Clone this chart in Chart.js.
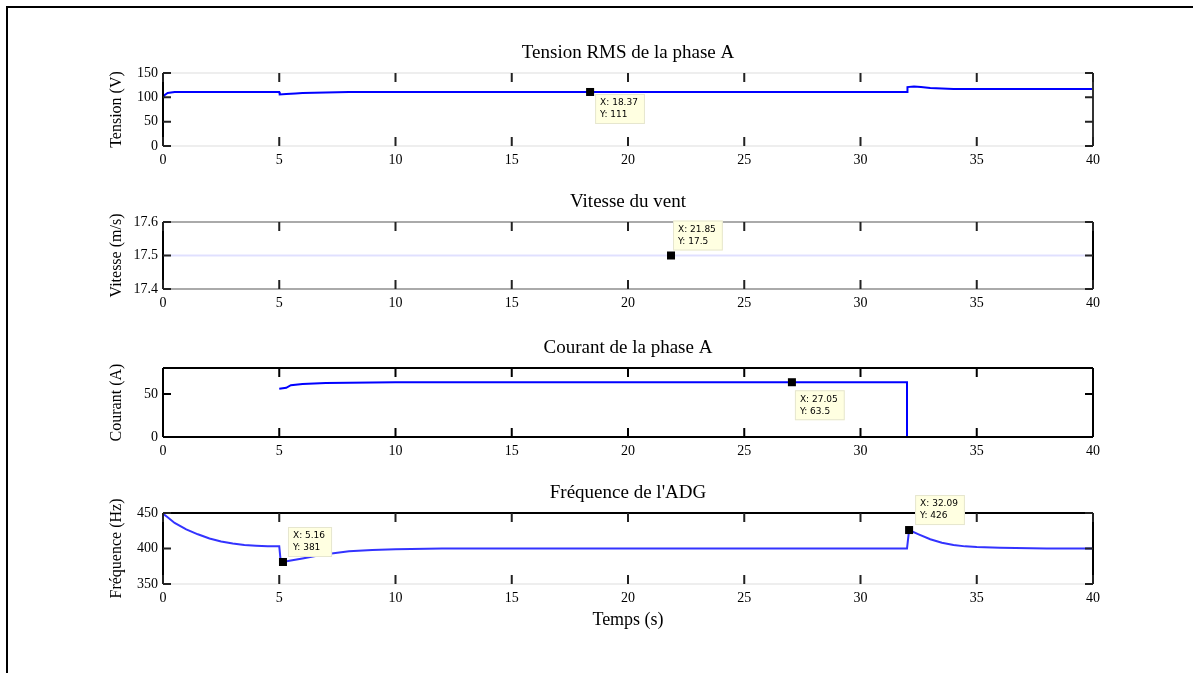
<!DOCTYPE html>
<html><head><meta charset="utf-8">
<script src="https://cdn.jsdelivr.net/npm/chart.js@4.4.0/dist/chart.umd.min.js"></script>
<style>
html,body{margin:0;padding:0;background:#fff;width:1197px;height:673px;overflow:hidden}
canvas.c{position:absolute;left:0;top:0}
#frame{position:absolute;left:6px;top:6px;width:1185px;height:680px;border-top:2px solid #000;border-left:2px solid #000}
</style></head><body>
<div id="frame"></div>
<canvas id="c1" class="c" width="1197" height="673"></canvas>
<canvas id="c2" class="c" width="1197" height="673"></canvas>
<canvas id="c3" class="c" width="1197" height="673"></canvas>
<canvas id="c4" class="c" width="1197" height="673"></canvas>
<script>
// ---- data ----
const timeTicks = [0, 5, 10, 15, 20, 25, 30, 35, 40];

const tensionTime   = [0, 0.05, 0.2, 0.5, 1, 2, 3, 4, 5, 5.02, 5.3, 5.7, 6, 7, 8, 9, 10, 15, 20, 25, 30, 32, 32.02, 32.3, 32.6, 33, 33.5, 34, 35, 36, 38, 40];
const tensionValues = [98, 104, 109, 111, 111, 111, 111, 111, 111, 106, 107, 108, 109, 110, 111, 111, 111, 111, 111, 111, 111, 111, 121, 122, 121, 119, 118, 117, 117, 117, 117, 117];
const tensionTicks  = [0, 50, 100, 150];
const tensionTip    = [18.37, 111];

const ventTime   = [0, 40];
const ventValues = [17.5, 17.5];
const ventTicks  = [17.4, 17.5, 17.6];
const ventTip    = [21.85, 17.5];

const courantTime   = [5, 5.3, 5.5, 6, 7, 8, 10, 15, 20, 25, 30, 32, 32, 40];
const courantValues = [56, 57, 60, 61.5, 62.5, 63, 63.5, 63.5, 63.5, 63.5, 63.5, 63.5, 0, 0];
const courantTicks  = [0, 50];
const courantTip    = [27.05, 63.5];

const freqTime   = [0, 0.2, 0.5, 1, 1.5, 2, 2.5, 3, 3.5, 4, 4.5, 5, 5.05, 5.16, 5.5, 6, 6.5, 7, 7.5, 8, 9, 10, 12, 15, 20, 25, 30, 32, 32.09, 32.5, 33, 33.5, 34, 34.5, 35, 36, 38, 40];
const freqValues = [449, 444, 436, 427, 420, 414, 410, 407, 405, 404, 403, 403, 386, 381, 383, 386, 389, 392, 394, 396, 398, 399, 400, 400, 400, 400, 400, 400, 426, 420, 413, 408, 405, 403, 402, 401, 400, 400];
const freqTicks  = [350, 400, 450];
const freqTip1   = [5.16, 381];
const freqTip2   = [32.09, 426];

// ---- drawing ----
const W = 1197, H = 673;
const SERIF = "'Liberation Serif', 'DejaVu Serif', serif";

function pts(xs, ys) { return xs.map((x, i) => ({x: x, y: ys[i]})); }

function fmt(v) { return String(Math.round(v * 10000) / 10000); }

const decor = {
  id: 'decor',
  afterDraw(chart, args, o) {
    const ctx = chart.ctx, a = chart.chartArea;
    const xs = chart.scales.x, ys = chart.scales.y;
    ctx.save();
    const edge = (c, x1, y1, x2, y2) => { if (!c) return; ctx.strokeStyle = c; ctx.lineWidth = 2; ctx.beginPath(); ctx.moveTo(x1, y1); ctx.lineTo(x2, y2); ctx.stroke(); };
    edge(o.edges.top, a.left, a.top, a.right, a.top);
    edge(o.edges.bottom, a.left, a.bottom, a.right, a.bottom);
    edge(o.edges.left, a.left, a.top, a.left, a.bottom);
    edge(o.edges.right, a.right, a.top, a.right, a.bottom);
    ctx.strokeStyle = o.tickColor; ctx.lineWidth = 2;
    ctx.beginPath();
    timeTicks.forEach(v => {
      const p = xs.getPixelForValue(v);
      ctx.moveTo(p, a.bottom); ctx.lineTo(p, a.bottom - 9);
      ctx.moveTo(p, a.top); ctx.lineTo(p, a.top + 9);
    });
    o.yTicks.forEach(v => {
      const p = ys.getPixelForValue(v);
      ctx.moveTo(a.left, p); ctx.lineTo(a.left + 8, p);
      ctx.moveTo(a.right, p); ctx.lineTo(a.right - 8, p);
    });
    ctx.stroke();
    ctx.fillStyle = '#000';
    ctx.font = '19px ' + SERIF;
    ctx.textAlign = 'center'; ctx.textBaseline = 'middle';
    ctx.fillText(o.title, (a.left + a.right) / 2, a.top - 20);
    ctx.save();
    ctx.translate(117, (a.top + a.bottom) / 2);
    ctx.rotate(-Math.PI / 2);
    ctx.font = '16px ' + SERIF;
    ctx.fillText(o.ylabel, 0, 0);
    ctx.restore();
    if (o.xlabel) {
      ctx.font = '18px ' + SERIF;
      ctx.fillText(o.xlabel, (a.left + a.right) / 2, a.bottom + 36);
    }
    o.tips.forEach(t => {
      const px = xs.getPixelForValue(t.v[0]), py = ys.getPixelForValue(t.v[1]);
      ctx.font = '9px "DejaVu Sans", sans-serif';
      const l1 = 'X: ' + fmt(t.v[0]), l2 = 'Y: ' + fmt(t.v[1]);
      const bw = Math.max(ctx.measureText(l1).width, ctx.measureText(l2).width) + 12;
      const bh = 30;
      const bx = px + t.dx;
      const by = t.below ? py + t.dy : py - t.dy - bh;
      ctx.fillStyle = '#ffffe1';
      ctx.fillRect(bx, by, bw, bh);
      ctx.strokeStyle = '#e6e6cf'; ctx.lineWidth = 1;
      ctx.strokeRect(bx + 0.5, by + 0.5, bw - 1, bh - 1);
      ctx.fillStyle = '#000'; ctx.textAlign = 'left'; ctx.textBaseline = 'middle';
      ctx.fillText(l1, bx + 5, by + 9);
      ctx.fillText(l2, bx + 5, by + 21);
      ctx.fillRect(px - 4, py - 4, 8, 8);
    });
    ctx.restore();
  }
};

function makePlot(id, p) {
  return new Chart(document.getElementById(id), {
    type: 'line',
    data: { datasets: [{ data: pts(p.t, p.v), borderColor: p.color, borderWidth: 2, pointRadius: 0, tension: 0, fill: false }] },
    options: {
      responsive: false, animation: false, events: [],
      layout: { padding: { top: p.top, right: W - 1093, left: 0, bottom: 0 } },
      plugins: { legend: { display: false }, tooltip: { enabled: false },
        decor: { title: p.title, ylabel: p.ylabel, xlabel: p.xlabel, yTicks: p.yTicks, tips: p.tips, edges: p.edges, tickColor: p.tickColor } },
      scales: {
        x: { type: 'linear', min: 0, max: 40,
          afterBuildTicks: s => { s.ticks = timeTicks.map(v => ({ value: v })); },
          afterFit: s => { s.height = H - p.bottom; },
          grid: { display: false, drawTicks: false }, border: { display: false },
          ticks: { autoSkip: false, maxRotation: 0, padding: 6, color: '#000', font: { family: SERIF, size: 14 } } },
        y: { type: 'linear', min: p.yMin, max: p.yMax,
          afterBuildTicks: s => { s.ticks = p.yTicks.map(v => ({ value: v })); },
          afterFit: s => { s.width = 163; },
          grid: { display: false, drawTicks: false }, border: { display: false },
          ticks: { padding: 5, color: '#000', font: { family: SERIF, size: 14 }, callback: v => fmt(v) } }
      }
    },
    plugins: [decor]
  });
}

makePlot('c1', { t: tensionTime, v: tensionValues, color: '#0000ff', top: 73, bottom: 146, yMin: 0, yMax: 150, yTicks: tensionTicks,
  title: 'Tension RMS de la phase A', ylabel: 'Tension (V)', tickColor: '#222',
  edges: { top: '#eeeeee', bottom: '#eeeeee', left: '#000', right: '#333' },
  tips: [{ v: tensionTip, dx: 5, dy: 2, below: true }] });

makePlot('c2', { t: ventTime, v: ventValues, color: 'rgba(0,0,255,0.12)', top: 222, bottom: 289, yMin: 17.4, yMax: 17.6, yTicks: ventTicks,
  title: 'Vitesse du vent', ylabel: 'Vitesse (m/s)', tickColor: '#222',
  edges: { top: '#aaaaaa', bottom: '#aaaaaa', left: '#000', right: '#000' },
  tips: [{ v: ventTip, dx: 2, dy: 5, below: false }] });

makePlot('c3', { t: courantTime, v: courantValues, color: '#0000ff', top: 368, bottom: 437, yMin: 0, yMax: 80, yTicks: courantTicks,
  title: 'Courant de la phase A', ylabel: 'Courant (A)', tickColor: '#000',
  edges: { top: '#000', bottom: '#000', left: '#000', right: '#000' },
  tips: [{ v: courantTip, dx: 3, dy: 8, below: true }] });

makePlot('c4', { t: freqTime, v: freqValues, color: '#3333ff', top: 513, bottom: 584, yMin: 350, yMax: 450, yTicks: freqTicks,
  title: "Fréquence de l'ADG", ylabel: 'Fréquence (Hz)', xlabel: 'Temps (s)', tickColor: '#222',
  edges: { top: '#000', bottom: '#eeeeee', left: '#000', right: '#000' },
  tips: [{ v: freqTip1, dx: 5, dy: 5, below: false }, { v: freqTip2, dx: 6, dy: 5, below: false }] });
</script>
</body></html>
